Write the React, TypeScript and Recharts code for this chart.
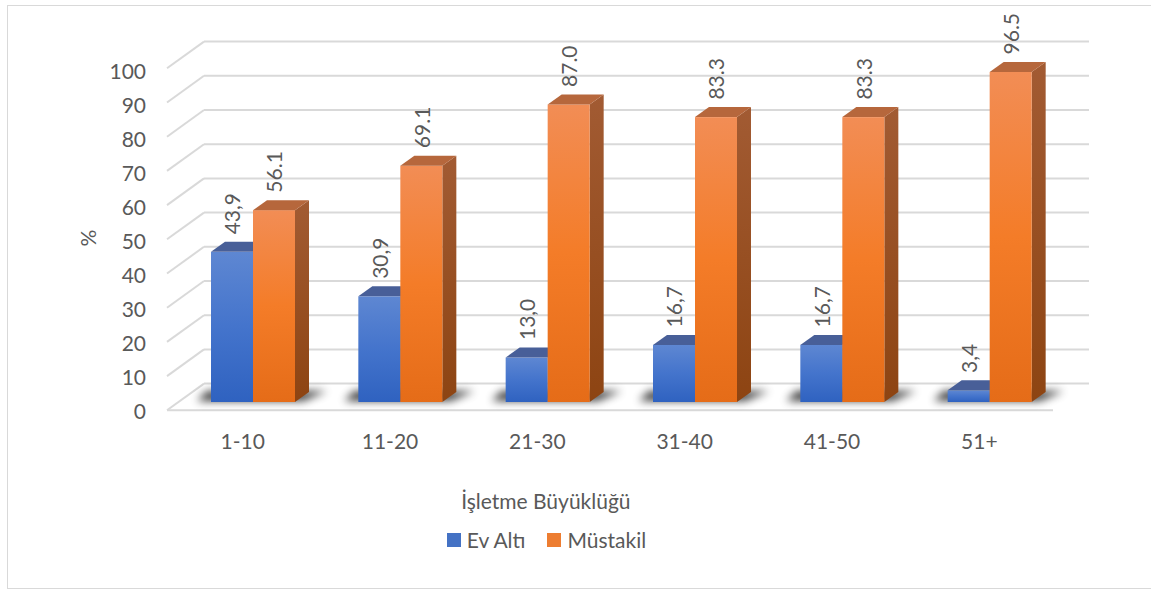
import React from 'react';
import {
  BarChart,
  Bar,
  XAxis,
  YAxis,
  CartesianGrid,
  Legend,
  LabelList,
  Customized,
} from 'recharts';

// Firm size groups and the share (%) of workshops of each type
const categories = ['1-10', '11-20', '21-30', '31-40', '41-50', '51+'];
const evAltiValues = [43.9, 30.9, 13.0, 16.7, 16.7, 3.4];
const mustakilValues = [56.1, 69.1, 87.0, 83.3, 83.3, 96.5];
const yTicks = [0, 10, 20, 30, 40, 50, 60, 70, 80, 90, 100];
const seriesNames = ['Ev Altı', 'Müstakil'];
const axisTitleX = 'İşletme Büyüklüğü';
const axisTitleY = '%';

const data = categories.map((name, i) => ({
  name,
  evAlti: evAltiValues[i],
  mustakil: mustakilValues[i],
}));

const W = 1151;
const H = 590;
const MARGIN = { top: 60, right: 88, bottom: 158, left: 119 };
const Y_AXIS_W = 60;
const X_AXIS_H = 30;
const PLOT_BOTTOM = H - MARGIN.bottom - X_AXIS_H;

// bar depth (3D extrusion)
const DX = 14;
const DY = 10;

const FONT = "Lato, 'Open Sans', 'DejaVu Sans', sans-serif";
const FS = 21;
const TEXT = '#595959';
const GRID = '#d9d9d9';

const Defs = () => (
  <defs>
    <linearGradient id="blueFront" x1="0" y1="0" x2="0" y2="1">
      <stop offset="0%" stopColor="#5e87d2" />
      <stop offset="50%" stopColor="#4474cc" />
      <stop offset="100%" stopColor="#2f62c0" />
    </linearGradient>
    <linearGradient id="blueSide" x1="0" y1="0" x2="0" y2="1">
      <stop offset="0%" stopColor="#3a5a9c" />
      <stop offset="100%" stopColor="#264a8c" />
    </linearGradient>
    <linearGradient id="orangeFront" x1="0" y1="0" x2="0" y2="1">
      <stop offset="0%" stopColor="#f28d55" />
      <stop offset="50%" stopColor="#f47c28" />
      <stop offset="100%" stopColor="#e56c18" />
    </linearGradient>
    <linearGradient id="orangeSide" x1="0" y1="0" x2="0" y2="1">
      <stop offset="0%" stopColor="#a25b33" />
      <stop offset="100%" stopColor="#8d4412" />
    </linearGradient>
    <filter id="floorShadow" x="-30%" y="-200%" width="160%" height="500%">
      <feGaussianBlur stdDeviation="4.5" />
    </filter>
  </defs>
);

type ShapeProps = { x?: number; y?: number; width?: number; height?: number };

const makeBox = (front: string, side: string, top: string, withShadow: boolean) =>
  (props: ShapeProps) => {
    const x = Number(props.x) || 0;
    const y = Number(props.y) || 0;
    const w = Number(props.width) || 0;
    const h = Number(props.height) || 0;
    const base = y + h;
    return (
      <g>
        {withShadow && (
          <polygon
            points={`${x - 14},${base - 1} ${x - 4},${base - DY - 1} ${x + 2 * w + DX + 18},${base - DY - 1} ${x + 2 * w + 8},${base - 1}`}
            fill="#000"
            opacity={0.75}
            filter="url(#floorShadow)"
          />
        )}
        <polygon
          points={`${x + w},${y} ${x + w + DX},${y - DY} ${x + w + DX},${base - DY} ${x + w},${base}`}
          fill={side}
        />
        <rect x={x} y={y} width={w} height={h} fill={front} />
        <polygon
          points={`${x},${y} ${x + DX},${y - DY} ${x + w + DX},${y - DY} ${x + w},${y}`}
          fill={top}
        />
      </g>
    );
  };

const BlueBox = makeBox('url(#blueFront)', 'url(#blueSide)', '#485f98', true);
const OrangeBox = makeBox('url(#orangeFront)', 'url(#orangeSide)', '#b6673c', false);

// horizontal gridline drawn as back wall line plus slanted side wall segment
const GridLine = (props: any) => {
  const y = Number(props.y1);
  const x1 = Number(props.x1);
  const x2 = Number(props.x2);
  const backY = y - 18.4;
  const frontY = y + 8.3;
  const isFloor = Math.abs(y - PLOT_BOTTOM) < 1;
  return (
    <g key={props.key} stroke={GRID} strokeWidth={2} fill="none">
      <line x1={x1 + 25} y1={backY} x2={x2 + 26} y2={backY} />
      <line x1={x1 - 12} y1={frontY} x2={x1 + 25} y2={backY} />
      {isFloor && <line x1={x1 - 12} y1={frontY} x2={x2 - 10} y2={frontY} />}
    </g>
  );
};

const YTick = (props: any) => {
  const { x, y, payload } = props;
  const v = Number(payload.value);
  return (
    <text
      x={x - 33}
      y={y + 8.3 + v * 0.017}
      textAnchor="end"
      dominantBaseline="central"
      fontFamily={FONT}
      fontSize={FS}
      fill={TEXT}
    >
      {payload.value}
    </text>
  );
};

const XTick = (props: any) => {
  const { x, y, payload } = props;
  return (
    <text
      x={x - 10}
      y={y + 38}
      textAnchor="middle"
      dominantBaseline="central"
      fontFamily={FONT}
      fontSize={FS}
      fill={TEXT}
    >
      {payload.value}
    </text>
  );
};

const makeValueLabel = (sep: string) => (props: any) => {
  const x = Number(props.x);
  const y = Number(props.y);
  const w = Number(props.width);
  const v = Number(props.value);
  const tx = x + w / 2 + 8.5;
  const ty = y - 17.5;
  return (
    <text
      x={tx}
      y={ty}
      transform={`rotate(-90 ${tx} ${ty})`}
      textAnchor="start"
      fontFamily={FONT}
      fontSize={FS}
      fill={TEXT}
    >
      {v.toFixed(1).replace('.', sep)}
    </text>
  );
};

const LegendContent = (props: any) => {
  const items = (props.payload || []) as any[];
  return (
    <div
      style={{
        display: 'flex',
        justifyContent: 'center',
        alignItems: 'center',
        fontFamily: FONT,
        fontSize: FS,
        color: TEXT,
        gap: 22,
      }}
    >
      {items.map((it) => (
        <div key={it.value} style={{ display: 'flex', alignItems: 'center', gap: 6 }}>
          <span style={{ width: 14, height: 14, background: it.color, display: 'inline-block' }} />
          <span>{it.value}</span>
        </div>
      ))}
    </div>
  );
};

export default function App() {
  return (
    <div
      style={{
        position: 'absolute',
        left: 0,
        top: 0,
        width: W,
        height: H,
        overflow: 'hidden',
        background: '#fff',
      }}
    >
      <div
        style={{
          position: 'absolute',
          left: 7,
          top: 5,
          width: W + 20,
          height: 582,
          border: '1px solid #d9d9d9',
        }}
      />
      <div style={{ position: 'absolute', left: 0, top: 0 }}>
        <BarChart
          width={W}
          height={H}
          data={data}
          margin={MARGIN}
          barSize={42}
          barGap={0}
        >
          <Customized component={Defs} />
          <CartesianGrid vertical={false} horizontal={GridLine} />
          <XAxis
            dataKey="name"
            height={X_AXIS_H}
            axisLine={false}
            tickLine={false}
            tickSize={0}
            tickMargin={0}
            tick={XTick}
            interval={0}
            label={{
              content: (p: any) => {
                const vb = p.viewBox || {};
                return (
                  <text
                    x={vb.x + vb.width * 0.415}
                    y={vb.y + 98}
                    textAnchor="middle"
                    dominantBaseline="central"
                    fontFamily={FONT}
                    fontSize={FS}
                    fill={TEXT}
                  >
                    {axisTitleX}
                  </text>
                );
              },
            }}
          />
          <YAxis
            width={Y_AXIS_W}
            domain={[0, 100]}
            ticks={yTicks}
            axisLine={false}
            tickLine={false}
            tickSize={0}
            tickMargin={0}
            tick={YTick}
            label={{
              content: (p: any) => {
                const vb = p.viewBox || {};
                const cx = vb.x - 32;
                const cy = vb.y + vb.height / 2 + 7;
                return (
                  <text
                    x={cx}
                    y={cy}
                    transform={`rotate(-90 ${cx} ${cy})`}
                    textAnchor="middle"
                    dominantBaseline="central"
                    fontFamily={FONT}
                    fontSize={FS}
                    fill={TEXT}
                  >
                    {axisTitleY}
                  </text>
                );
              },
            }}
          />
          <Legend
            layout="horizontal"
            verticalAlign="middle"
            align="center"
            wrapperStyle={{ top: 527, left: 0, width: 1093, height: 28 }}
            content={LegendContent}
          />
          <Bar
            dataKey="evAlti"
            name={seriesNames[0]}
            fill="#4472c4"
            shape={BlueBox}
            isAnimationActive={false}
          >
            <LabelList dataKey="evAlti" content={makeValueLabel(',')} />
          </Bar>
          <Bar
            dataKey="mustakil"
            name={seriesNames[1]}
            fill="#ed7d31"
            shape={OrangeBox}
            isAnimationActive={false}
          >
            <LabelList dataKey="mustakil" content={makeValueLabel('.')} />
          </Bar>
        </BarChart>
      </div>
    </div>
  );
}
